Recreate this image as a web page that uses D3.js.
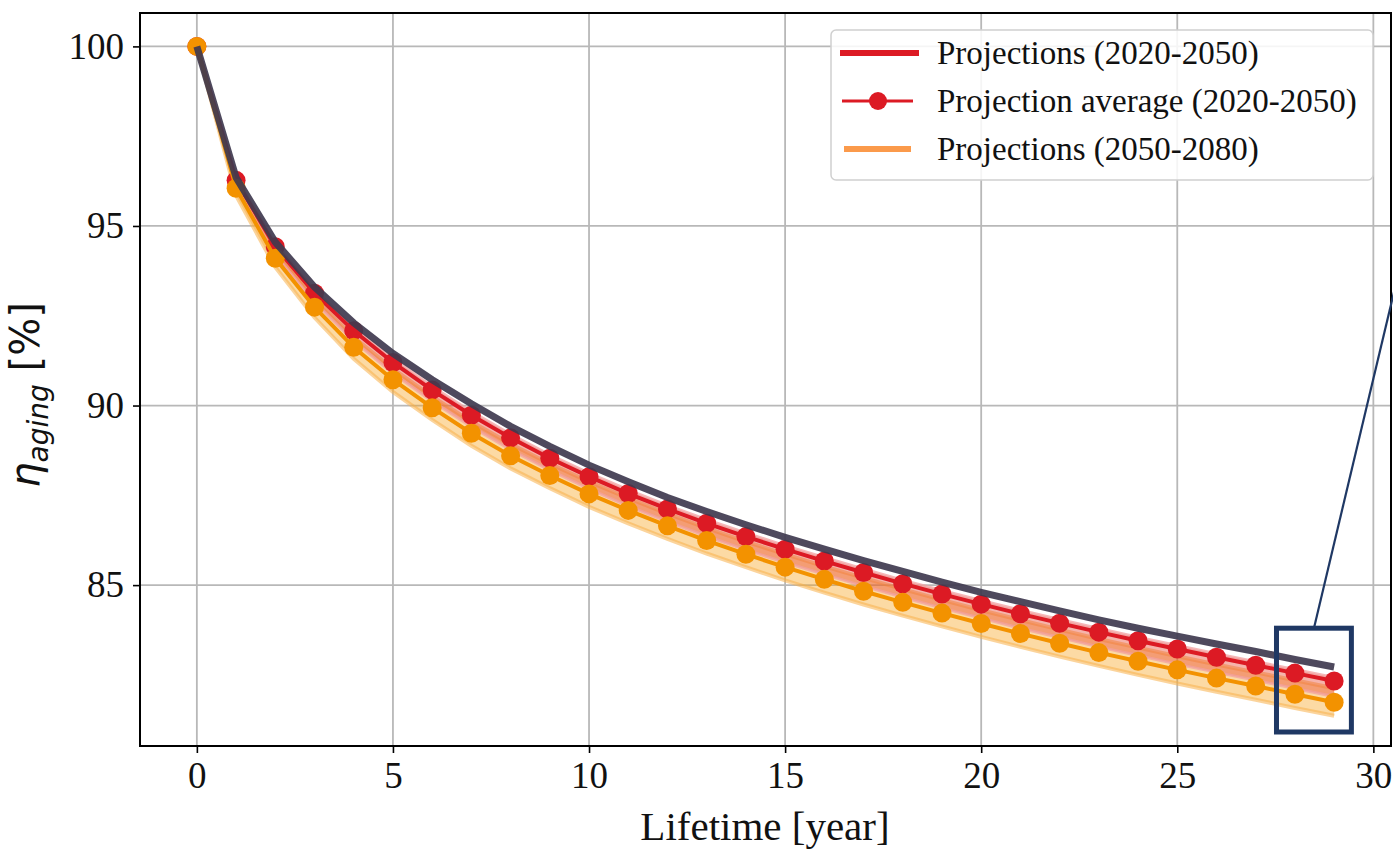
<!DOCTYPE html>
<html>
<head>
<meta charset="utf-8">
<script src="https://cdn.jsdelivr.net/npm/d3@7"></script>
<style>
  body { margin: 0; background: #fff; }
  svg { display: block; }
  .tick text { font-family: "Liberation Serif", "Times New Roman", serif; }
</style>
</head>
<body>
<div id="chart"></div>
<script>
// lifetime years
const years = [0, 1, 2, 3, 4, 5, 6, 7, 8, 9, 10, 11, 12, 13, 14, 15, 16, 17, 18, 19, 20, 21, 22, 23, 24, 25, 26, 27, 28, 29];

// reference curve (dark)
const reference = [100, 96.35, 94.55, 93.3, 92.3, 91.45, 90.72, 90.05, 89.42, 88.86, 88.34, 87.88, 87.44, 87.05, 86.68, 86.33, 86.0, 85.68, 85.38, 85.08, 84.8, 84.54, 84.28, 84.03, 83.8, 83.58, 83.36, 83.15, 82.93, 82.72];

// projection averages
const avg2050 = [100, 96.27, 94.42, 93.13, 92.08, 91.2, 90.43, 89.73, 89.1, 88.53, 88.02, 87.55, 87.12, 86.72, 86.35, 86.0, 85.67, 85.35, 85.04, 84.75, 84.47, 84.2, 83.94, 83.69, 83.45, 83.22, 82.99, 82.77, 82.55, 82.33];
const avg2080 = [100, 96.05, 94.1, 92.74, 91.62, 90.72, 89.94, 89.23, 88.6, 88.05, 87.54, 87.08, 86.65, 86.24, 85.86, 85.5, 85.16, 84.83, 84.52, 84.22, 83.93, 83.65, 83.38, 83.12, 82.88, 82.64, 82.41, 82.19, 81.96, 81.74];

// spread of the individual projections
const proj2050Top = [100, 96.35, 94.5, 93.22, 92.17, 91.3, 90.53, 89.83, 89.2, 88.63, 88.12, 87.65, 87.22, 86.82, 86.45, 86.1, 85.77, 85.45, 85.14, 84.85, 84.57, 84.3, 84.04, 83.79, 83.55, 83.32, 83.09, 82.87, 82.65, 82.43];
const proj2050Bottom = [100, 96.1, 94.2, 92.88, 91.8, 90.9, 90.12, 89.41, 88.77, 88.2, 87.68, 87.2, 86.77, 86.36, 85.98, 85.63, 85.3, 84.97, 84.66, 84.36, 84.08, 83.8, 83.54, 83.28, 83.04, 82.8, 82.57, 82.35, 82.12, 81.9];
const proj2080Top = [100, 96.25, 94.35, 93.0, 91.9, 91.02, 90.25, 89.55, 88.93, 88.38, 87.88, 87.42, 86.99, 86.59, 86.21, 85.86, 85.52, 85.2, 84.89, 84.59, 84.3, 84.03, 83.76, 83.5, 83.26, 83.02, 82.79, 82.57, 82.35, 82.13];
const proj2080Bottom = [100, 95.85, 93.85, 92.45, 91.3, 90.38, 89.6, 88.88, 88.25, 87.7, 87.18, 86.72, 86.29, 85.88, 85.5, 85.13, 84.79, 84.46, 84.15, 83.85, 83.56, 83.28, 83.01, 82.75, 82.5, 82.26, 82.03, 81.81, 81.58, 81.36];

const xTicks = [0, 5, 10, 15, 20, 25, 30];
const yTicks = [85, 90, 95, 100];
const legendLabels = ["Projections (2020-2050)", "Projection average (2020-2050)", "Projections (2050-2080)"];

// zoom box around the last years (data units)
const zoomBox = {x0: 27.53, x1: 29.44, y0: 80.91, y1: 83.8};
const zoomLineEnd = {x: 30.6, y: 93.5};

const width = 1393, height = 849;
const plot = {left: 140, right: 1391, top: 13, bottom: 746};

const x = d3.scaleLinear().domain([-1.45, 30.45]).range([plot.left, plot.right]);
const y = d3.scaleLinear().domain([80.52, 100.93]).range([plot.bottom, plot.top]);

const svg = d3.select("#chart").append("svg")
    .attr("width", width)
    .attr("height", height);

svg.append("defs").append("clipPath").attr("id", "clip")
    .append("rect")
    .attr("x", plot.left).attr("y", plot.top)
    .attr("width", plot.right - plot.left).attr("height", plot.bottom - plot.top);

// grid
const grid = svg.append("g");
grid.selectAll(".vg").data(xTicks).enter().append("line")
    .attr("x1", d => x(d)).attr("x2", d => x(d))
    .attr("y1", plot.top).attr("y2", plot.bottom)
    .attr("stroke", "#b8b8b8").attr("stroke-width", 1.8);
grid.selectAll(".hg").data(yTicks).enter().append("line")
    .attr("y1", d => y(d)).attr("y2", d => y(d))
    .attr("x1", plot.left).attr("x2", plot.right)
    .attr("stroke", "#b8b8b8").attr("stroke-width", 1.8);

const g = svg.append("g").attr("clip-path", "url(#clip)");

const band = (top, bottom) => d3.area()
    .x((d, i) => x(years[i]))
    .y0((d, i) => y(bottom[i]))
    .y1((d, i) => y(top[i]))(years);
const line = vals => d3.line()
    .x((d, i) => x(years[i]))
    .y((d, i) => y(vals[i]))(years);

// projection bands (2050-2080 under 2020-2050)
g.append("path").attr("d", band(proj2080Top, proj2080Bottom))
    .attr("fill", "#f7a21b").attr("opacity", 0.4);
[proj2080Top, proj2080Bottom].forEach(v => {
    g.append("path").attr("d", line(v)).attr("fill", "none")
        .attr("stroke", "#f8b04a").attr("stroke-width", 4).attr("opacity", 0.55);
});
g.append("path").attr("d", band(proj2050Top, proj2050Bottom))
    .attr("fill", "#e8412c").attr("opacity", 0.4);
[proj2050Top, proj2050Bottom].forEach(v => {
    g.append("path").attr("d", line(v)).attr("fill", "none")
        .attr("stroke", "#f2a0a0").attr("stroke-width", 3).attr("opacity", 0.75);
});

// averages with markers
function avgSeries(vals, color) {
    g.append("path").attr("d", line(vals)).attr("fill", "none")
        .attr("stroke", color).attr("stroke-width", 4);
    g.selectAll(null).data(vals).enter().append("circle")
        .attr("cx", (d, i) => x(years[i]))
        .attr("cy", d => y(d))
        .attr("r", 9.5)
        .attr("fill", color);
}
avgSeries(avg2050, "#dc1a24");
avgSeries(avg2080, "#f39200");

// reference curve
g.append("path").attr("d", line(reference)).attr("fill", "none")
    .attr("stroke", "#3f3a4f").attr("stroke-width", 7).attr("opacity", 0.92);

// axes
const xAxis = svg.append("g")
    .attr("transform", `translate(0,${plot.bottom})`)
    .call(d3.axisBottom(x).tickValues(xTicks).tickSize(7).tickPadding(9));
const yAxis = svg.append("g")
    .attr("transform", `translate(${plot.left},0)`)
    .call(d3.axisLeft(y).tickValues(yTicks).tickSize(7).tickPadding(9));
[xAxis, yAxis].forEach(a => {
    a.select(".domain").remove();
    a.selectAll(".tick line").attr("stroke", "#000").attr("stroke-width", 1.6);
    a.selectAll(".tick text").attr("font-size", 37).attr("fill", "#111");
});

svg.append("rect")
    .attr("x", plot.left).attr("y", plot.top)
    .attr("width", plot.right - plot.left).attr("height", plot.bottom - plot.top)
    .attr("fill", "none").attr("stroke", "#000").attr("stroke-width", 2);

// axis labels
svg.append("text")
    .attr("x", 765).attr("y", 840)
    .attr("text-anchor", "middle")
    .attr("font-family", "Liberation Serif, serif").attr("font-size", 41)
    .attr("fill", "#111")
    .text("Lifetime [year]");

const yl = svg.append("text")
    .attr("transform", `translate(39,395) rotate(-90)`)
    .attr("text-anchor", "middle")
    .attr("font-family", "DejaVu Sans, sans-serif").attr("font-size", 40)
    .attr("fill", "#111");
yl.append("tspan").attr("font-style", "italic").text("η");
yl.append("tspan").attr("font-style", "italic").attr("font-size", 28).attr("dy", 9).text("aging");
yl.append("tspan").attr("dy", -9).text(" [%]");

// zoom box and pointer line
svg.append("rect")
    .attr("x", x(zoomBox.x0)).attr("y", y(zoomBox.y1))
    .attr("width", x(zoomBox.x1) - x(zoomBox.x0))
    .attr("height", y(zoomBox.y0) - y(zoomBox.y1))
    .attr("fill", "none").attr("stroke", "#1f3864").attr("stroke-width", 5);
svg.append("line")
    .attr("x1", x((zoomBox.x0 + zoomBox.x1) / 2)).attr("y1", y(zoomBox.y1))
    .attr("x2", x(zoomLineEnd.x)).attr("y2", y(zoomLineEnd.y))
    .attr("stroke", "#1f3864").attr("stroke-width", 2.2);

// legend
const lg = svg.append("g").attr("transform", "translate(831,30)");
lg.append("rect").attr("width", 542).attr("height", 150).attr("rx", 5)
    .attr("fill", "#fff").attr("fill-opacity", 0.85)
    .attr("stroke", "#d0d0d0").attr("stroke-width", 1.5);
const rowY = [23, 71, 119];
lg.append("line").attr("x1", 9).attr("x2", 88).attr("y1", rowY[0]).attr("y2", rowY[0])
    .attr("stroke", "#dc1a24").attr("stroke-width", 6);
lg.append("line").attr("x1", 11).attr("x2", 82).attr("y1", rowY[1]).attr("y2", rowY[1])
    .attr("stroke", "#dc1a24").attr("stroke-width", 3);
lg.append("circle").attr("cx", 47).attr("cy", rowY[1]).attr("r", 9).attr("fill", "#dc1a24");
lg.append("line").attr("x1", 13).attr("x2", 80).attr("y1", rowY[2]).attr("y2", rowY[2])
    .attr("stroke", "#fb9a4b").attr("stroke-width", 6);
lg.selectAll(".lt").data(legendLabels).enter().append("text")
    .attr("x", 106).attr("y", (d, i) => rowY[i] + 11)
    .attr("font-family", "Liberation Serif, serif").attr("font-size", 33)
    .attr("fill", "#111")
    .text(d => d);
</script>
</body>
</html>
